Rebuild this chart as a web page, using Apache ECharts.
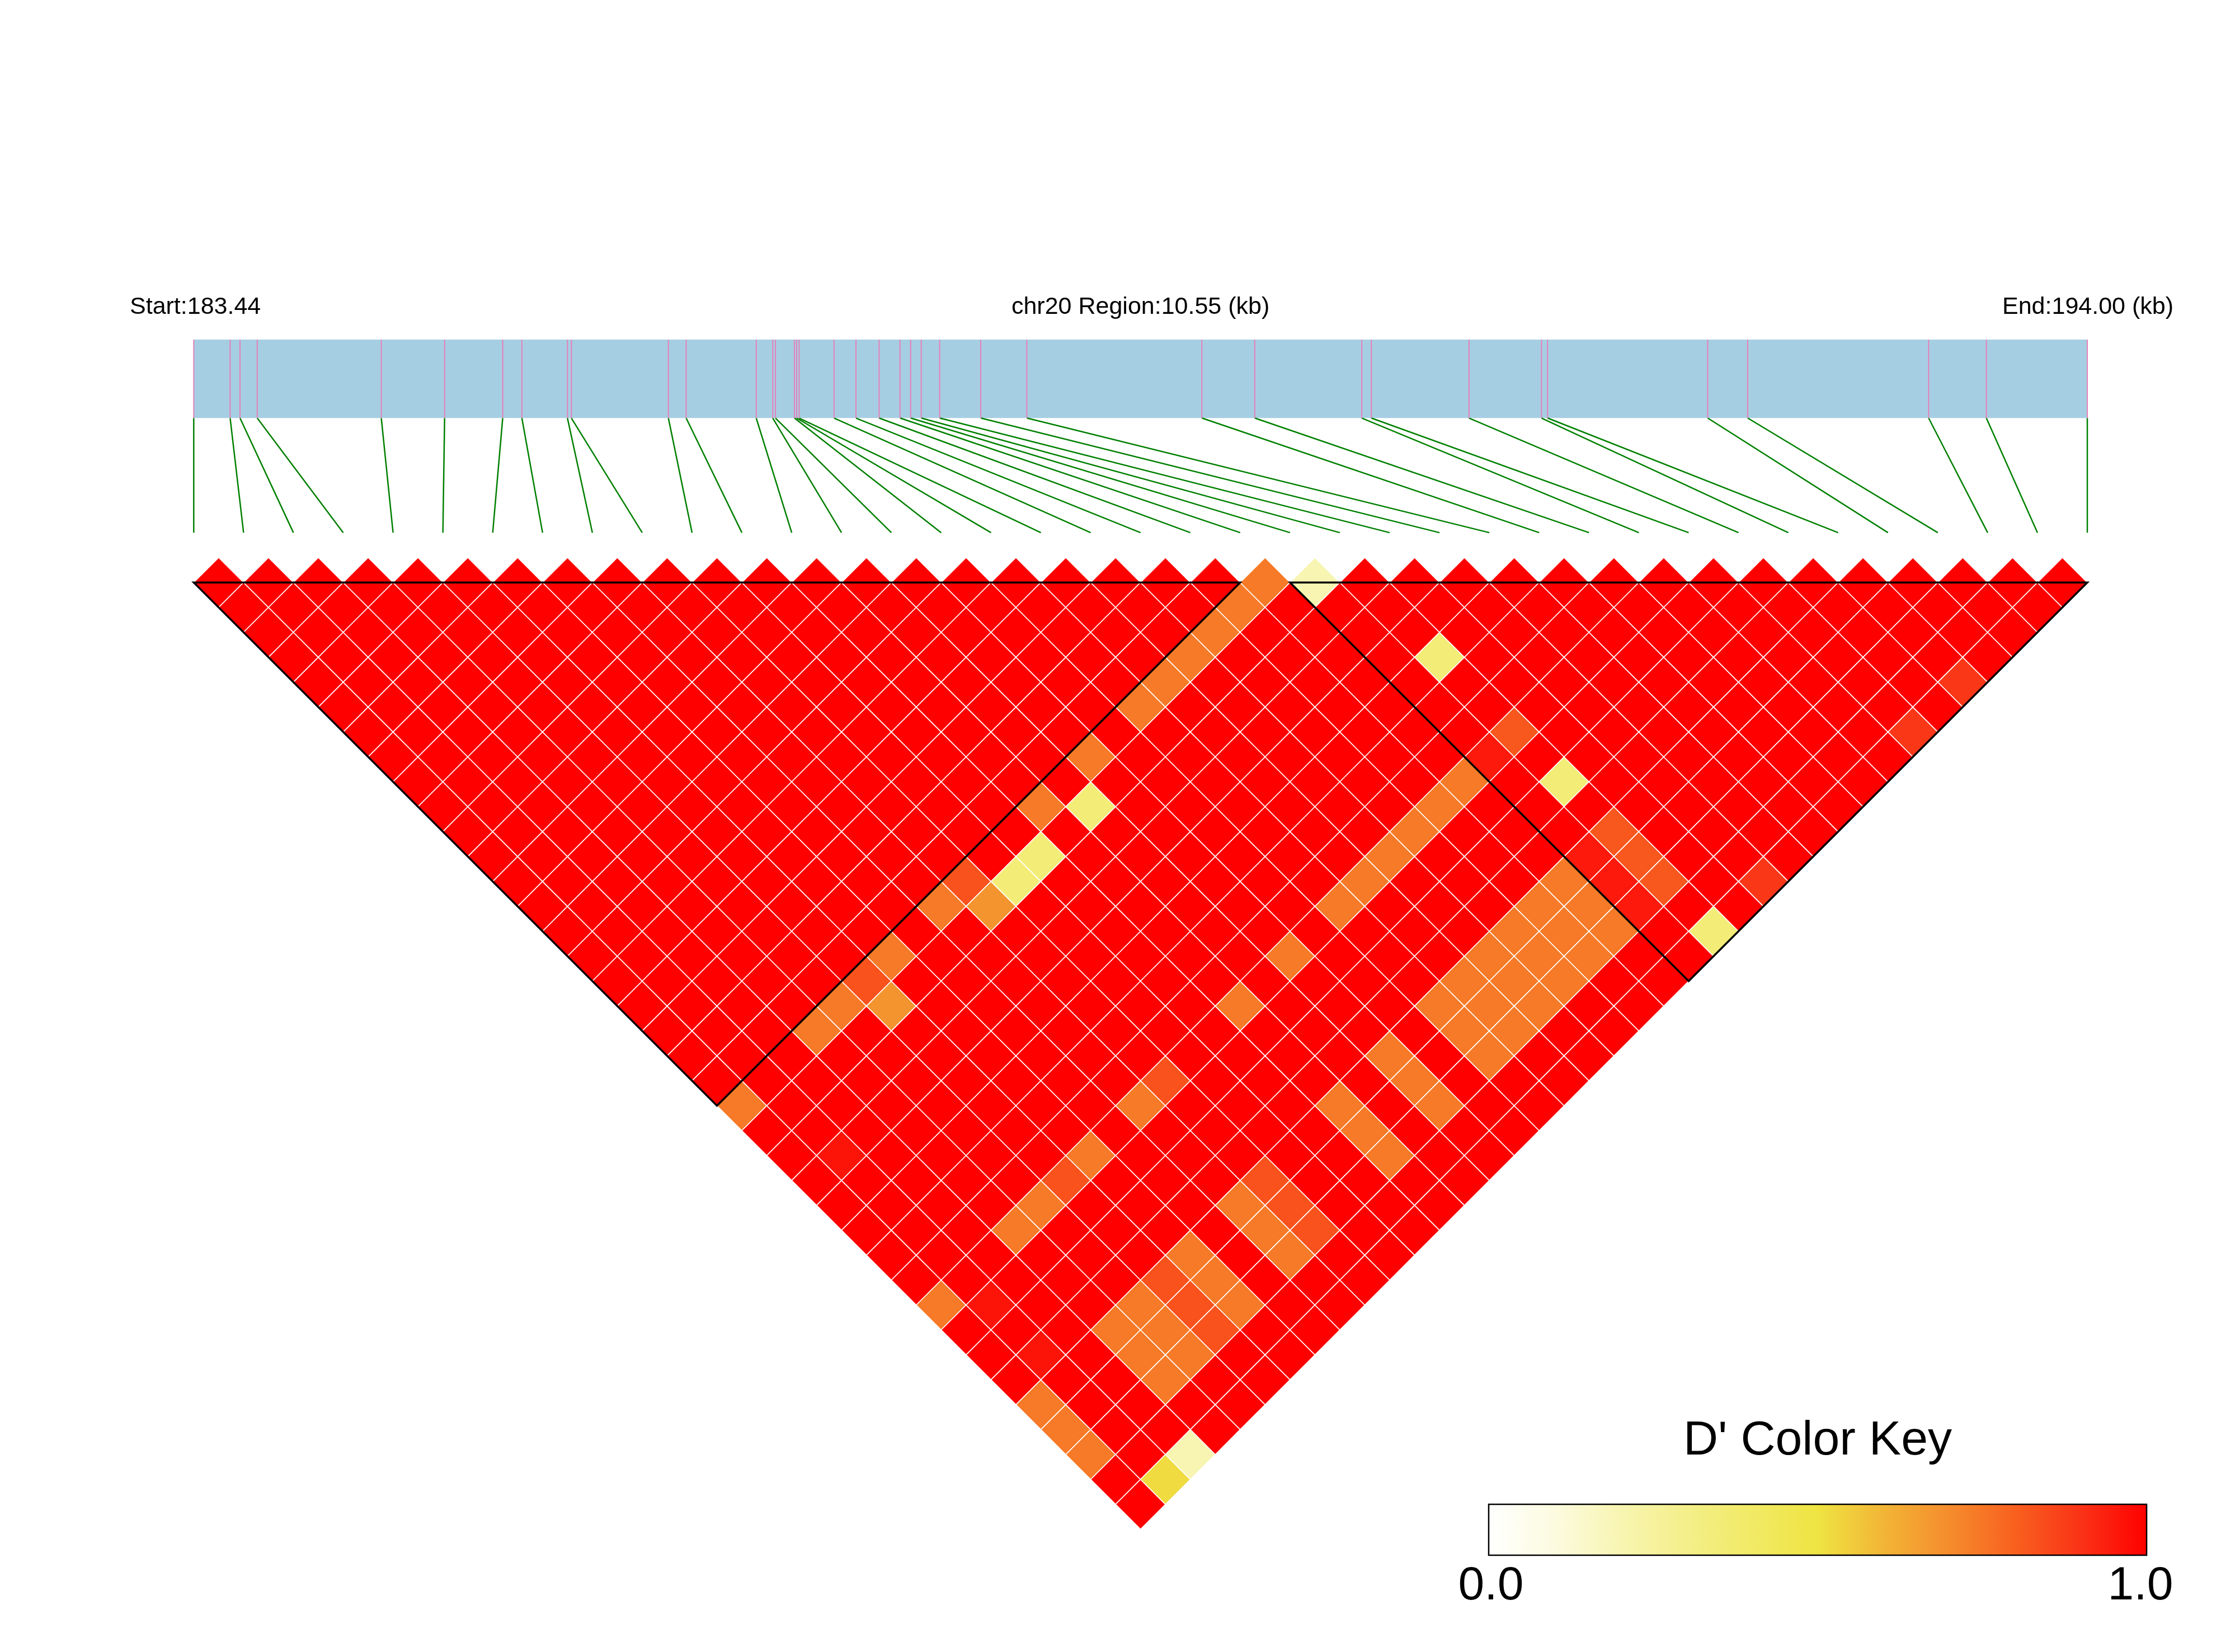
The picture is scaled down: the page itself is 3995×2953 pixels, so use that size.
<!DOCTYPE html>
<html>
<head>
<meta charset="utf-8">
<script src="https://cdn.jsdelivr.net/npm/echarts@6/dist/echarts.min.js"></script>
<style>
html,body{margin:0;padding:0;background:#ffffff;}
#chart{width:3995px;height:2953px;}
</style>
</head>
<body>
<div id="chart"></div>
<script>
// ---------------- data ----------------
const chromName = 'chr20';
const regionStartKb = 183.44;
const regionEndKb = 194.00;
const regionSizeLabel = '10.55';

// SNP positions (kb)
const snpPosKb = [
  183.440, 183.643, 183.698, 183.794, 184.486, 184.839, 185.163, 185.270,
  185.524, 185.546, 186.087, 186.186, 186.577, 186.669, 186.684, 186.790,
  186.802, 186.816, 187.011, 187.133, 187.262, 187.379, 187.438, 187.497,
  187.600, 187.829, 188.086, 189.062, 189.357, 189.954, 190.007, 190.552,
  190.956, 190.990, 191.883, 192.106, 193.115, 193.437, 194.000
];

// LD blocks (first SNP index, last SNP index)
const ldBlocks = [[0, 21], [22, 38]];

// pairs whose D' is visibly below 1 (all other pairs read as D' = 1.0)
const dPrimeBelowOne = [
  [0,22,0.74],[3,22,0.74],[4,22,0.74],[5,22,0.83],[6,22,0.74],[8,22,0.74],[9,22,0.83],
  [12,22,0.74],[14,22,0.74],[16,22,0.74],[17,22,0.74],[18,22,0.74],[19,22,0.74],[20,22,0.74],[21,22,0.74],
  [5,23,0.68],[9,23,0.68],[10,23,0.35],[11,23,0.35],[13,23,0.35],[22,23,0.20],
  [1,25,0.96],
  [23,27,0.35],
  [0,30,0.74],[3,30,0.74],[4,30,0.74],[5,30,0.83],[6,30,0.74],[8,30,0.74],[9,30,0.83],
  [12,30,0.74],[14,30,0.74],[16,30,0.74],[17,30,0.74],[18,30,0.74],[19,30,0.74],[20,30,0.74],[21,30,0.74],
  [22,30,0.95],[23,30,0.82],
  [1,31,0.96],
  [23,32,0.35],
  [1,33,0.96],
  [0,34,0.74],[3,34,0.74],[4,34,0.74],[5,34,0.83],[6,34,0.74],[8,34,0.74],[9,34,0.83],
  [12,34,0.74],[14,34,0.74],[16,34,0.74],[17,34,0.74],[18,34,0.74],[19,34,0.74],[20,34,0.74],[21,34,0.74],
  [22,34,0.95],[23,34,0.82],
  [0,35,0.74],[3,35,0.74],[4,35,0.74],[5,35,0.83],[6,35,0.74],[8,35,0.74],[9,35,0.83],
  [12,35,0.74],[14,35,0.74],[16,35,0.74],[17,35,0.74],[18,35,0.74],[19,35,0.74],[20,35,0.74],[21,35,0.74],
  [22,35,0.95],[23,35,0.82],
  [0,36,0.74],[3,36,0.74],[4,36,0.74],[5,36,0.83],[6,36,0.74],[8,36,0.74],[9,36,0.83],
  [12,36,0.74],[14,36,0.74],[16,36,0.74],[17,36,0.74],[18,36,0.74],[19,36,0.74],[20,36,0.74],[21,36,0.74],
  [22,36,0.95],[23,36,0.82],
  [1,38,0.52],[2,38,0.20],[23,38,0.35],[25,38,0.89],[31,38,0.89],[33,38,0.89]
];

// D' colour key (0 -> 1)
const keyColors = ['#FFFFFF','#FCFBE0','#F8F5B2','#F4EF8A','#F1EA66','#EFE442',
                   '#F2B536','#F58C2D','#F8601F','#FA3216','#FF0000'];
const keyLabels = ['0.0', '1.0'];

// ---------------- build pair table ----------------
const nSnp = snpPosKb.length;
const below = {};
dPrimeBelowOne.forEach(function (r) { below[r[0] + '_' + r[1]] = r[2]; });
const pairCells = [];
for (let i = 0; i < nSnp; i++) {
  for (let j = i + 1; j < nSnp; j++) {
    const key = i + '_' + j;
    pairCells.push([i, j, key in below ? below[key] : 1.0]);
  }
}
const snpSlots = snpPosKb.map(function (p, k) { return [k, p]; });

// ---------------- chart ----------------
const chart = echarts.init(document.getElementById('chart'), null, {renderer: 'canvas', width: 3995, height: 2953});

const BAR_TOP = -4.875, BAR_BOT = -3.30, LINK_BOT = -1.0;
const FONT = '"Liberation Sans", Arial, Helvetica, sans-serif';

const option = {
  backgroundColor: '#ffffff',
  animation: false,
  grid: {left: 346.3, right: 264, top: 607, bottom: 174.9, containLabel: false},
  xAxis: [
    {type: 'value', min: 0, max: nSnp - 1, show: false, gridIndex: 0},
    {type: 'value', min: regionStartKb, max: regionEndKb, show: false, gridIndex: 0}
  ],
  yAxis: [{type: 'value', min: BAR_TOP, max: 19.5, inverse: true, show: false}],
  visualMap: {
    show: false, type: 'continuous', min: 0, max: 1, dimension: 2, seriesIndex: 3,
    inRange: {color: keyColors}
  },
  series: [
    { // gene bar
      type: 'custom', xAxisIndex: 1, yAxisIndex: 0, silent: true, clip: false,
      data: [[regionStartKb, regionEndKb]],
      renderItem: function (params, api) {
        const a = api.coord([api.value(0), BAR_TOP]);
        const b = api.coord([api.value(1), BAR_BOT]);
        return {type: 'rect', shape: {x: a[0], y: a[1], width: b[0] - a[0], height: b[1] - a[1]},
                style: {fill: '#A6CEE3'}};
      }
    },
    { // SNP ticks in the bar
      type: 'custom', xAxisIndex: 1, yAxisIndex: 0, silent: true, clip: false, z: 3,
      data: snpPosKb,
      renderItem: function (params, api) {
        const a = api.coord([api.value(0), BAR_TOP]);
        const b = api.coord([api.value(0), BAR_BOT]);
        return {type: 'line', shape: {x1: a[0], y1: a[1], x2: b[0], y2: b[1]},
                style: {stroke: '#E581B9', lineWidth: 2}};
      }
    },
    { // connectors from position to matrix slot
      type: 'custom', xAxisIndex: 0, yAxisIndex: 0, silent: true, clip: false,
      data: snpSlots,
      renderItem: function (params, api) {
        const k = api.value(0), pos = api.value(1);
        const bot = api.coord([k, LINK_BOT]);
        const yTop = api.coord([k, BAR_BOT])[1];
        const xTop = chart.convertToPixel({xAxisIndex: 1}, pos);
        return {type: 'line', shape: {x1: xTop, y1: yTop, x2: bot[0], y2: bot[1]},
                style: {stroke: '#008000', lineWidth: 2.5}};
      }
    },
    { // LD cells
      type: 'custom', xAxisIndex: 0, yAxisIndex: 0, silent: true, clip: false, z: 2,
      dimensions: ['i', 'j', 'dprime'],
      encode: {x: 0, y: 1},
      data: pairCells,
      renderItem: function (params, api) {
        const i = api.value(0), j = api.value(1);
        const cx = (i + j) / 2, cy = (j - i - 1) / 2;
        const pts = [[cx, cy - 0.5], [cx + 0.5, cy], [cx, cy + 0.5], [cx - 0.5, cy]].map(function (p) { return api.coord(p); });
        return {type: 'polygon', shape: {points: pts},
                style: {fill: api.visual('color'), stroke: '#ffffff', lineWidth: 1.6}};
      }
    },
    { // LD block outlines
      type: 'custom', xAxisIndex: 0, yAxisIndex: 0, silent: true, clip: false, z: 5,
      data: ldBlocks,
      renderItem: function (params, api) {
        const a = api.value(0), b = api.value(1);
        const pts = [[a, 0], [b, 0], [(a + b) / 2, (b - a) / 2]].map(function (p) { return api.coord(p); });
        return {type: 'polygon', shape: {points: pts},
                style: {fill: 'none', stroke: '#000000', lineWidth: 3.5, lineJoin: 'miter'}};
      }
    }
  ],
  graphic: [
    {type: 'text', x: 232, y: 549, style: {text: 'Start:' + regionStartKb.toFixed(2), font: '43px ' + FONT, fill: '#000', align: 'left', verticalAlign: 'middle'}},
    {type: 'text', x: 2038.6, y: 549, style: {text: chromName + ' Region:' + regionSizeLabel + ' (kb)', font: '43px ' + FONT, fill: '#000', align: 'center', verticalAlign: 'middle'}},
    {type: 'text', x: 3885, y: 549, style: {text: 'End:' + regionEndKb.toFixed(2) + ' (kb)', font: '43px ' + FONT, fill: '#000', align: 'right', verticalAlign: 'middle'}},
    {type: 'text', x: 3249, y: 2576, style: {text: "D' Color Key", font: '86px ' + FONT, fill: '#000', align: 'center', verticalAlign: 'middle'}},
    {type: 'rect', shape: {x: 2661, y: 2689, width: 1176, height: 91},
     style: {fill: new echarts.graphic.LinearGradient(0, 0, 1, 0,
        keyColors.map(function (c, k) { return {offset: k / (keyColors.length - 1), color: c}; })),
        stroke: '#000', lineWidth: 2.5}},
    {type: 'text', x: 2665, y: 2836, style: {text: keyLabels[0], font: '84px ' + FONT, fill: '#000', align: 'center', verticalAlign: 'middle'}},
    {type: 'text', x: 3826, y: 2836, style: {text: keyLabels[1], font: '84px ' + FONT, fill: '#000', align: 'center', verticalAlign: 'middle'}}
  ]
};
chart.setOption(option);
</script>
</body>
</html>
